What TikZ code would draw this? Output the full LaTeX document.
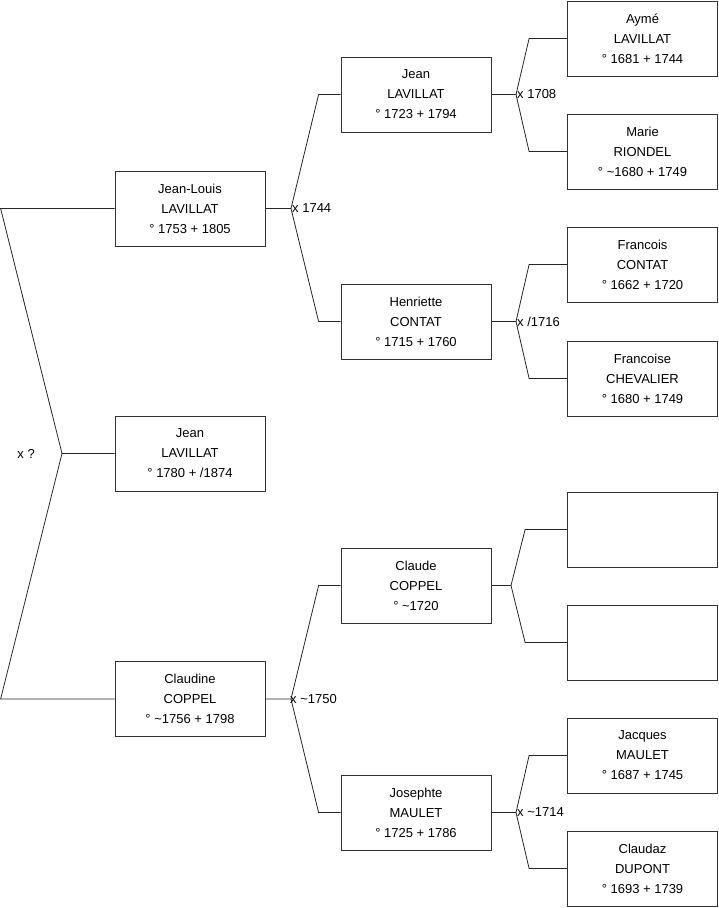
\documentclass[tikz,border=0pt]{standalone}
\usepackage{fontspec}
\setmainfont{Liberation Sans}
\usepackage{tikz}
\usetikzlibrary{positioning,calc}

\begin{document}
\begin{tikzpicture}[x=1pt, y=-1pt,
  person/.style={draw=black!80, line width=0.8pt, minimum width=150pt, minimum height=75pt,
                 inner sep=0pt, align=center, font=\fontsize{13}{20}\selectfont},
  link/.style={draw=black!85, line width=0.8pt},
  mlab/.style={font=\fontsize{13}{15}\selectfont, anchor=west, inner sep=1pt},
]
\useasboundingbox (0,0) rectangle (719,908);
% generation 0
\node[person] (jlouis)   at (190,208.5) {Jean-Louis\\LAVILLAT\\° 1753 + 1805};
\node[person] (root)     at (190,453.5) {Jean\\LAVILLAT\\° 1780 + /1874};
\node[person] (claudine) at (190,699)   {Claudine\\COPPEL\\° \textasciitilde 1756 + 1798};
% generation 1
\node[person] (jean)      at (416,94.5)  {Jean\\LAVILLAT\\° 1723 + 1794};
\node[person] (henriette) at (416,321.5) {Henriette\\CONTAT\\° 1715 + 1760};
\node[person] (claude)    at (416,585.5) {Claude\\COPPEL\\° \textasciitilde 1720};
\node[person] (josephte)  at (416,812.5) {Josephte\\MAULET\\° 1725 + 1786};
% generation 2
\node[person] (ayme)      at (642.5,38.5)  {Aymé\\LAVILLAT\\° 1681 + 1744};
\node[person] (marie)     at (642.5,151.5) {Marie\\RIONDEL\\° \textasciitilde 1680 + 1749};
\node[person] (francois)  at (642.5,264.5) {Francois\\CONTAT\\° 1662 + 1720};
\node[person] (francoise) at (642.5,378.5) {Francoise\\CHEVALIER\\° 1680 + 1749};
\node[person] (unkA)      at (642.5,529.5) {};
\node[person] (unkB)      at (642.5,642.5) {};
\node[person] (jacques)   at (642.5,755.5) {Jacques\\MAULET\\° 1687 + 1745};
\node[person] (claudaz)   at (642.5,868.5) {Claudaz\\DUPONT\\° 1693 + 1739};

% marriage points
\coordinate (mroot) at (62,453.5);
\coordinate (m1)  at (291,208.5);
\coordinate (m2)  at (291,699);
\coordinate (m11) at (516,94.5);
\coordinate (m12) at (516,321.5);
\coordinate (m21) at (511,585.5);
\coordinate (m22) at (516,812.5);

\draw[link] (root.west) -- (mroot) -- ([xshift=-114pt]jlouis.west) -- (jlouis.west);
\draw[link] (mroot) -- ([xshift=-114pt]claudine.west) -- (claudine.west);

\draw[link] (jlouis.east) -- (m1) -- ([xshift=-22pt]jean.west) -- (jean.west);
\draw[link] (m1) -- ([xshift=-22pt]henriette.west) -- (henriette.west);
\draw[link] (claudine.east) -- (m2) -- ([xshift=-22pt]claude.west) -- (claude.west);
\draw[link] (m2) -- ([xshift=-22pt]josephte.west) -- (josephte.west);

\draw[link] (jean.east) -- (m11) -- ([xshift=-38pt]ayme.west) -- (ayme.west);
\draw[link] (m11) -- ([xshift=-38pt]marie.west) -- (marie.west);
\draw[link] (henriette.east) -- (m12) -- ([xshift=-38pt]francois.west) -- (francois.west);
\draw[link] (m12) -- ([xshift=-38pt]francoise.west) -- (francoise.west);
\draw[link] (claude.east) -- (m21) -- ([xshift=-42pt]unkA.west) -- (unkA.west);
\draw[link] (m21) -- ([xshift=-42pt]unkB.west) -- (unkB.west);
\draw[link] (josephte.east) -- (m22) -- ([xshift=-38pt]jacques.west) -- (jacques.west);
\draw[link] (m22) -- ([xshift=-38pt]claudaz.west) -- (claudaz.west);

% marriage labels
\node[mlab, anchor=east] (lroot) at ([xshift=-26pt]mroot) {x ?};
\node[mlab] (l1)  at (m1)  {x 1744};
\node[mlab] (l2)  at ([xshift=-2pt]m2) {x \textasciitilde 1750};
\node[mlab] (l11) at (m11) {x 1708};
\node[mlab] (l12) at (m12) {x /1716};
\node[mlab] (l22) at (m22) {x \textasciitilde 1714};
\end{tikzpicture}
\end{document}
